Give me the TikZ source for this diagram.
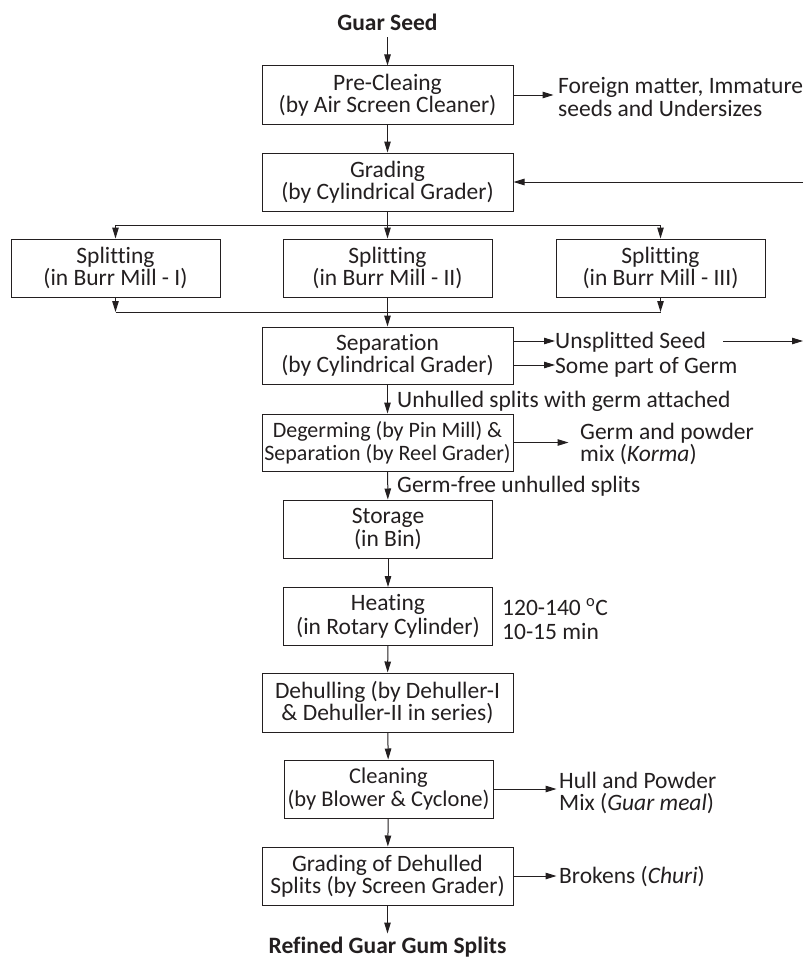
\documentclass[tikz,border=0pt]{standalone}
\usepackage{fontspec}
\setmainfont{Carlito}[Ligatures={NoCommon}]
\usetikzlibrary{arrows.meta}
\definecolor{ink}{RGB}{35,31,32}
\begin{document}
\begin{tikzpicture}[x=1pt,y=-1pt,
  every node/.style={font=\fontsize{23.5}{22.5}\selectfont, text=ink},
  box/.style={draw=ink, line width=1pt, align=center, inner sep=0pt,
    minimum width=251pt, minimum height=58pt},
  narrow/.style={minimum width=209pt},
  lbl/.style={inner sep=0pt, anchor=base west},
  side/.style={inner sep=0pt, anchor=west, align=left},
  bold/.style={font=\fontsize{23.5}{22.5}\selectfont\bfseries},
  arr/.style={draw=ink, line width=1pt, -{Triangle[length=11pt,width=6.5pt]}},
  ln/.style={draw=ink, line width=1pt}]
\useasboundingbox (0,0) rectangle (803,958);

% main column
\node[lbl, anchor=base, bold] (seed) at (387.5,31) {Guar Seed};
\node[box] (pre) at (387.5,95) {Pre-Cleaing\\(by Air Screen Cleaner)};
\node[box] (grad) at (387.5,182) {Grading\\(by Cylindrical Grader)};
\node[box, narrow] (spA) at (115.5,268) {Splitting\\(in Burr Mill - I)};
\node[box, narrow] (spB) at (387.5,268) {Splitting\\(in Burr Mill - II)};
\node[box, narrow] (spC) at (660.5,268) {Splitting\\(in Burr Mill - III)};
\node[box, minimum height=57pt] (sep) at (387.5,355.5) {Separation\\(by Cylindrical Grader)};
\node[box, minimum height=57pt, font=\fontsize{22}{22.5}\selectfont] (deg) at (387.5,442.5) {Degerming (by Pin Mill) \&\\Separation (by Reel Grader)};
\node[box, narrow] (sto) at (388,529) {Storage\\(in Bin)};
\node[box, narrow, font=\fontsize{23.5}{24}\selectfont] (heat) at (388,616.5) {Heating\\(in Rotary Cylinder)};
\node[box, minimum height=59pt] (dehull) at (387.5,702.5) {Dehulling (by Dehuller-I\\\& Dehuller-II in series)};
\node[box, narrow, font=\fontsize{22.5}{22.5}\selectfont] (clean) at (388.5,789) {Cleaning\\(by Blower \& Cyclone)};
\node[box] (gradd) at (387.5,876) {Grading of Dehulled\\Splits (by Screen Grader)};
\node[lbl, anchor=base, bold] (refined) at (387.5,953) {Refined Guar Gum Splits};

% side texts
\node[side] (fm) at (558,97) {Foreign matter, Immature\\seeds and Undersizes};
\node[lbl] (us) at (555,348) {Unsplitted Seed};
\node[lbl] (spg) at (555,373) {Some part of Germ};
\node[lbl] (uh) at (397,407) {Unhulled splits with germ attached};
\node[side] (gp) at (580,444) {Germ and powder\\mix (\textit{Korma})};
\node[lbl] (gf) at (397,492) {Germ-free unhulled splits};
\node[side, font=\fontsize{23.5}{24}\selectfont] (temp) at (502,619) {120-140 \textsuperscript{o}C\\10-15 min};
\node[side] (hp) at (559,793) {Hull and Powder\\Mix (\textit{Guar meal})};
\node[lbl] (br) at (559,883) {Brokens (\textit{Churi})};

\coordinate (fbR) at (803,182);
\coordinate (usL) at (723,341);
\coordinate (usR) at (803,341);
\coordinate (splitT) at (387.5,225);
\coordinate (mergeB) at (387.5,312);

% connectors
\draw[arr] ([yshift=-6pt]seed.south) -- (pre.north);
\draw[arr] (pre) -- (grad);
\draw[arr] (pre.east) -- ++(40,0);
\draw[arr] (fbR) -- (grad.east);
\draw[ln] (grad.south) -- (splitT);
\draw[ln] (spA.north |- splitT) -- (spC.north |- splitT);
\draw[arr] (spA.north |- splitT) -- (spA.north);
\draw[arr] (splitT) -- (spB.north);
\draw[arr] (spC.north |- splitT) -- (spC.north);
\draw[arr] (spA.south) -- (spA.south |- mergeB);
\draw[arr] (spC.south) -- (spC.south |- mergeB);
\draw[ln] (spA.south |- mergeB) -- (spC.south |- mergeB);
\draw[arr] (spB.south) -- (sep.north);
\draw[arr] ([yshift=14.5pt]sep.east) -- ([yshift=14.5pt]sep.east -| us.west);
\draw[arr] ([yshift=-9.5pt]sep.east) -- ([yshift=-9.5pt]sep.east -| spg.west);
\draw[arr] (usL) -- (usR);
\draw[arr] (sep) -- (deg);
\draw[arr] (deg.east) -- ++(55,0);
\draw[arr] (deg) -- (sto);
\draw[arr] (sto) -- (heat);
\draw[arr] (heat) -- (dehull);
\draw[arr] (dehull) -- (clean);
\draw[arr] (clean.east) -- ++(63,0);
\draw[arr] (clean) -- (gradd);
\draw[arr] (gradd.east) -- ++(43,0);
\draw[arr] (gradd.south) -- ++(0,28);
\end{tikzpicture}
\end{document}
